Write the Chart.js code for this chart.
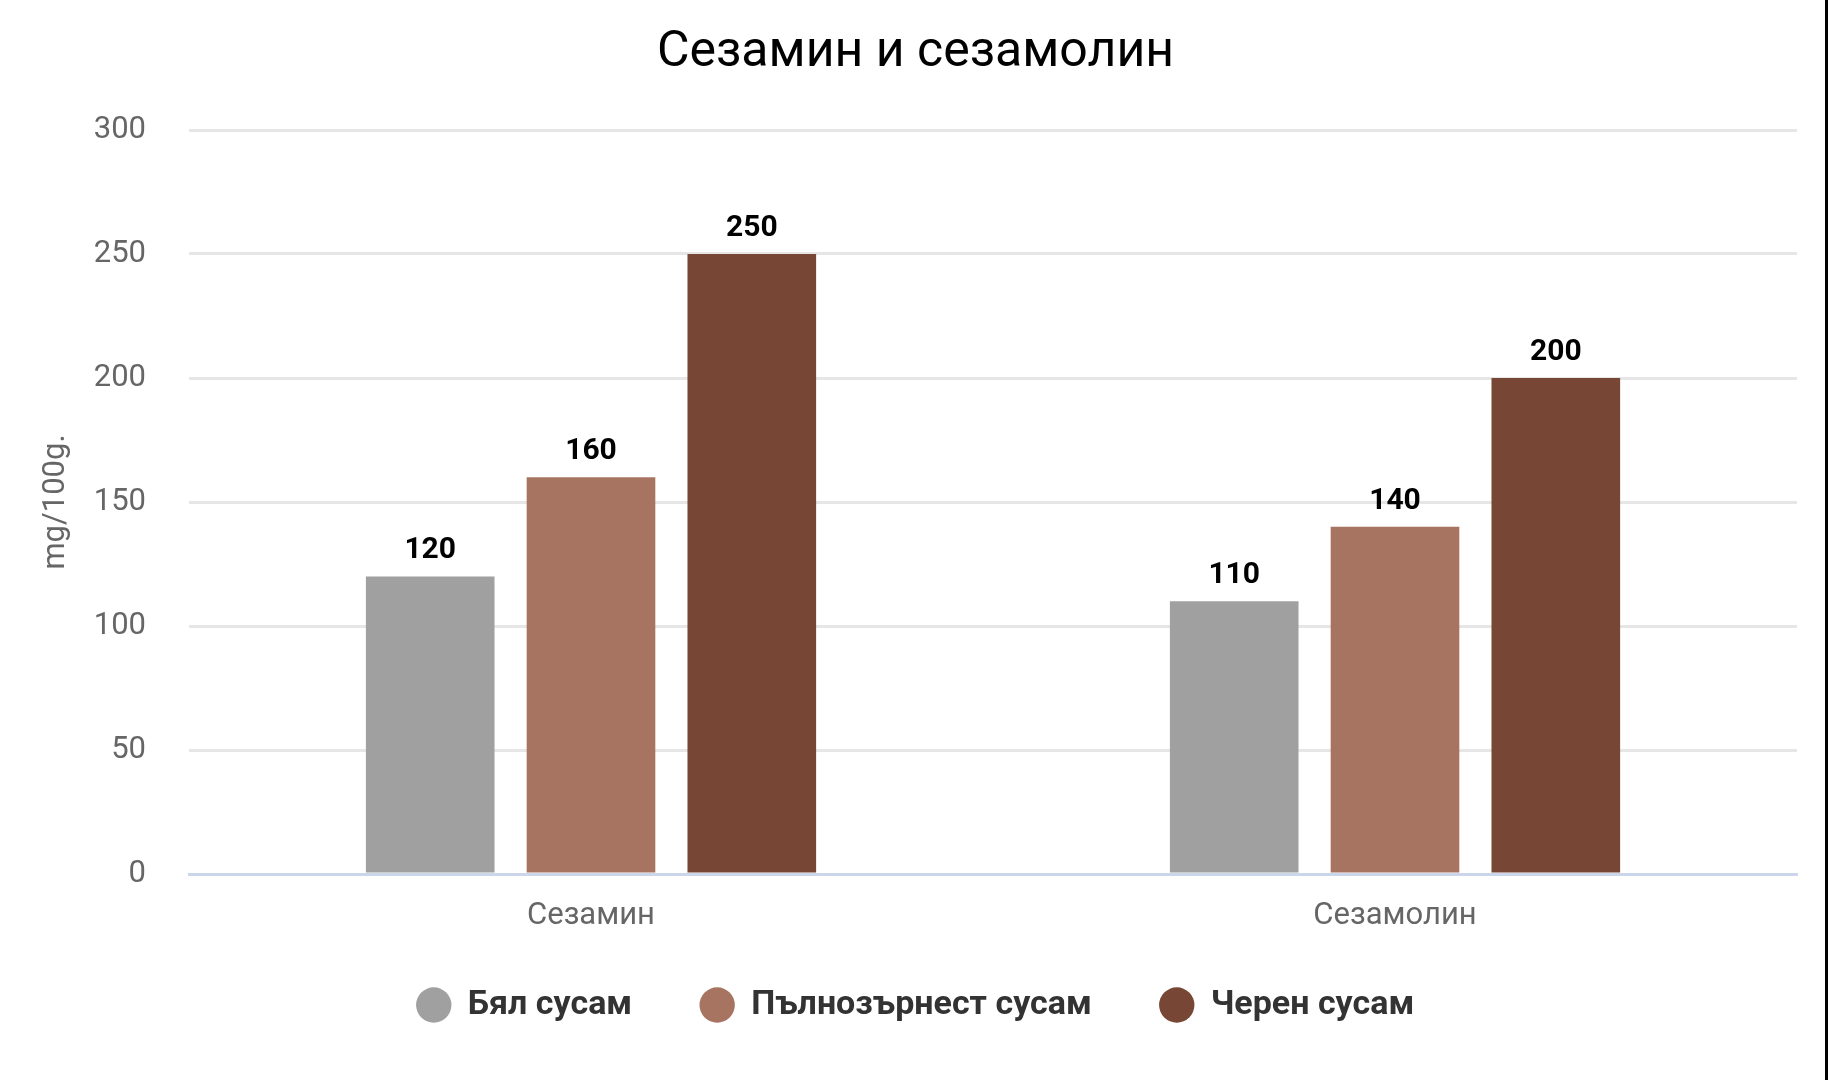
<!DOCTYPE html>
<html lang="bg">
<head>
    <meta charset="UTF-8">
    <title>Сезамин и сезамолин</title>
    <script src="https://cdn.jsdelivr.net/npm/chart.js@4.4.1/dist/chart.umd.min.js"></script>
    <style>
        body {
            margin: 0;
            padding: 0;
            background: #ffffff;
        }
        .wrap {
            width: 1825px;
            height: 1080px;
            border-right: 3px solid #000;
            position: relative;
        }
    </style>
</head>
<body>
    <div class="wrap">
        <canvas id="sesameChart"></canvas>
    </div>

    <script>
        var categories = ['Сезамин', 'Сезамолин'];
        var seriesNames = ['Бял сусам', 'Пълнозърнест сусам', 'Черен сусам'];
        var whiteSesame = [120, 110];
        var wholeSesame = [160, 140];
        var blackSesame = [250, 200];
        var yTicks = [0, 50, 100, 150, 200, 250, 300];

        var colors = ['#a0a0a0', '#a77461', '#774635'];
        var fontFamily = 'Roboto, "Noto Sans", sans-serif';

        // values above the bars + category names under the x axis
        // (the axis box is kept short so the legend sits close, so its own labels would get clipped)
        var chartText = {
            id: 'chartText',
            afterDatasetsDraw: function(chart) {
                var ctx = chart.ctx;
                var xScale = chart.scales.x;
                ctx.save();
                ctx.font = 'bold 30px ' + fontFamily;
                ctx.fillStyle = '#000';
                ctx.textAlign = 'center';
                ctx.textBaseline = 'alphabetic';
                chart.data.datasets.forEach(function(ds, i) {
                    chart.getDatasetMeta(i).data.forEach(function(bar, j) {
                        ctx.fillText(ds.data[j], bar.x, bar.y - 18);
                    });
                });

                ctx.font = '31px ' + fontFamily;
                ctx.fillStyle = '#666';
                ctx.textBaseline = 'middle';
                chart.data.labels.forEach(function(label, i) {
                    ctx.fillText(label, xScale.getPixelForTick(i), chart.chartArea.bottom + 42);
                });
                ctx.restore();
            }
        };

        var ctx = document.getElementById('sesameChart').getContext('2d');
        var sesameChart = new Chart(ctx, {
            type: 'bar',
            data: {
                labels: categories,
                datasets: [
                    { label: seriesNames[0], data: whiteSesame, backgroundColor: colors[0] },
                    { label: seriesNames[1], data: wholeSesame, backgroundColor: colors[1] },
                    { label: seriesNames[2], data: blackSesame, backgroundColor: colors[2] }
                ]
            },
            options: {
                responsive: true,
                maintainAspectRatio: false,
                animation: false,
                datasets: {
                    bar: { categoryPercentage: 0.6, barPercentage: 0.8 }
                },
                layout: {
                    padding: { left: 34, right: 28, top: 0, bottom: 48 }
                },
                plugins: {
                    title: {
                        display: true,
                        text: 'Сезамин и сезамолин',
                        color: '#000',
                        font: { family: fontFamily, size: 50, weight: 'normal' },
                        padding: { top: 23, bottom: 47 }
                    },
                    legend: {
                        position: 'bottom',
                        labels: {
                            usePointStyle: true,
                            pointStyle: 'circle',
                            boxWidth: 34,
                            boxHeight: 25,
                            padding: 68,
                            color: '#333',
                            font: { family: fontFamily, size: 34, weight: 'bold' }
                        }
                    },
                    tooltip: { enabled: false }
                },
                scales: {
                    x: {
                        grid: { display: false, drawTicks: false },
                        border: { color: '#ccd6eb', width: 3 },
                        afterFit: function(scale) {
                            scale.height = 46;
                        },
                        ticks: { display: false }
                    },
                    y: {
                        min: 0,
                        max: 300,
                        afterBuildTicks: function(scale) {
                            scale.ticks = yTicks.map(function(v) { return { value: v }; });
                        },
                        afterFit: function(scale) {
                            scale.width = 155;
                        },
                        border: { display: false },
                        grid: {
                            drawTicks: false,
                            lineWidth: 3,
                            color: function(c) {
                                return c.tick && c.tick.value === 0 ? 'rgba(0,0,0,0)' : '#e6e6e6';
                            }
                        },
                        ticks: {
                            color: '#666',
                            padding: 43,
                            font: { family: fontFamily, size: 31 }
                        },
                        title: {
                            display: true,
                            text: 'mg/100g.',
                            color: '#666',
                            font: { family: fontFamily, size: 31 },
                            padding: { top: 4, bottom: 4 }
                        }
                    }
                }
            },
            plugins: [chartText]
        });
    </script>
</body>
</html>
